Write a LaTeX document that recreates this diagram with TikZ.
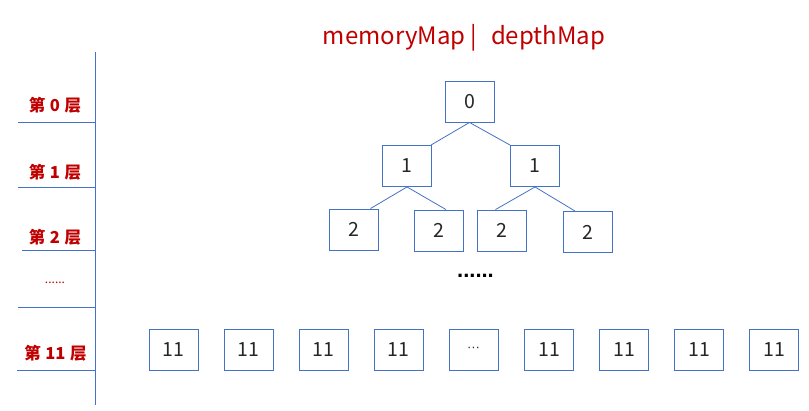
\documentclass[tikz,border=0pt]{standalone}
\usepackage{fontspec}
\setmainfont{Noto Sans CJK SC}
\newfontfamily\arialish{Liberation Sans}
\usetikzlibrary{calc}
\definecolor{boxblue}{HTML}{4472C4}
\definecolor{labred}{HTML}{C00000}
\definecolor{txt}{HTML}{262626}
\newcommand{\gap}{\hspace{4.5bp}}
\begin{document}
\begin{tikzpicture}[x=1bp,y=-1bp,
  cell/.style={draw=boxblue,line width=0.9bp,minimum width=49bp,minimum height=41bp,inner sep=0pt,
    font=\fontsize{19.5bp}{21bp}\selectfont,text=txt},
  edge/.style={draw=boxblue,line width=0.8bp},
  axis/.style={draw=boxblue,line width=1bp},
  lvl/.style={text=labred,font=\fontsize{16.5bp}{18bp}\selectfont\bfseries,inner sep=0pt}]
\useasboundingbox (0,0) rectangle (809,410);
% title
\node[text=labred,font=\fontsize{24bp}{26bp}\selectfont,inner sep=0pt] (title) at (464,38) {memoryMap\hspace{5bp}|\hspace{14bp}depthMap};
% axis and level lines
\coordinate (vtop) at (95,52);
\coordinate (vbot) at (95,405);
\draw[axis] (vtop) -- (vbot);
\foreach \y/\x [count=\i] in {122/18,187/18,250/22,307/18,370/17}{
  \coordinate (ls\i) at (\x,\y);
  \coordinate (le\i) at (95,\y);
  \draw[axis] (ls\i) -- (le\i);
}
\node[lvl] (l0) at (55,105) {第\gap 0\gap 层};
\node[lvl] (l1) at (55,172) {第\gap 1\gap 层};
\node[lvl] (l2) at (55,237) {第\gap 2\gap 层};
\node[text=labred,font=\fontsize{12bp}{14bp}\selectfont,inner sep=0pt] (ld) at (55,283) {......};
\node[lvl] (l11) at (55.5,353) {第\gap 11\gap 层};
% tree
\node[cell] (n0) at (469.5,101.5) {0};
\node[cell] (n1a) at (407,166) {1};
\node[cell] (n1b) at (535,166) {1};
\node[cell] (n2a) at (353.5,229.5) {2};
\node[cell] (n2b) at (439,230.5) {2};
\node[cell] (n2c) at (502,230.5) {2};
\node[cell] (n2d) at (587.5,232) {2};
\draw[edge] (n0.south) -- ($(n1a.north west)!0.98!(n1a.north east)$);
\draw[edge] (n0.south) -- (n1b.north west);
\draw[edge] (n1a.south) -- ($(n2a.north west)!0.84!(n2a.north east)$);
\draw[edge] (n1a.south) -- ($(n2b.north west)!0.64!(n2b.north east)$);
\draw[edge] (n1b.south) -- ($(n2c.north west)!0.37!(n2c.north east)$);
\draw[edge] (n1b.south) -- ($(n2d.north west)!0.25!(n2d.north east)$);
\node[font=\arialish\fontsize{22bp}{24bp}\selectfont\bfseries,inner sep=0pt] (dots) at (475.5,276) {......};
% bottom row
\foreach \x [count=\i] in {173.5,248.5,323.5,398.5}{
  \node[cell] (b\i) at (\x,349.5) {11};
}
\node[cell,font=\arialish\fontsize{13bp}{15bp}\selectfont] (b5) at (473.5,349.5) {···};
\foreach \x [count=\i from 6] in {549,624,699,774}{
  \node[cell] (b\i) at (\x,349.5) {11};
}
\end{tikzpicture}
\end{document}
